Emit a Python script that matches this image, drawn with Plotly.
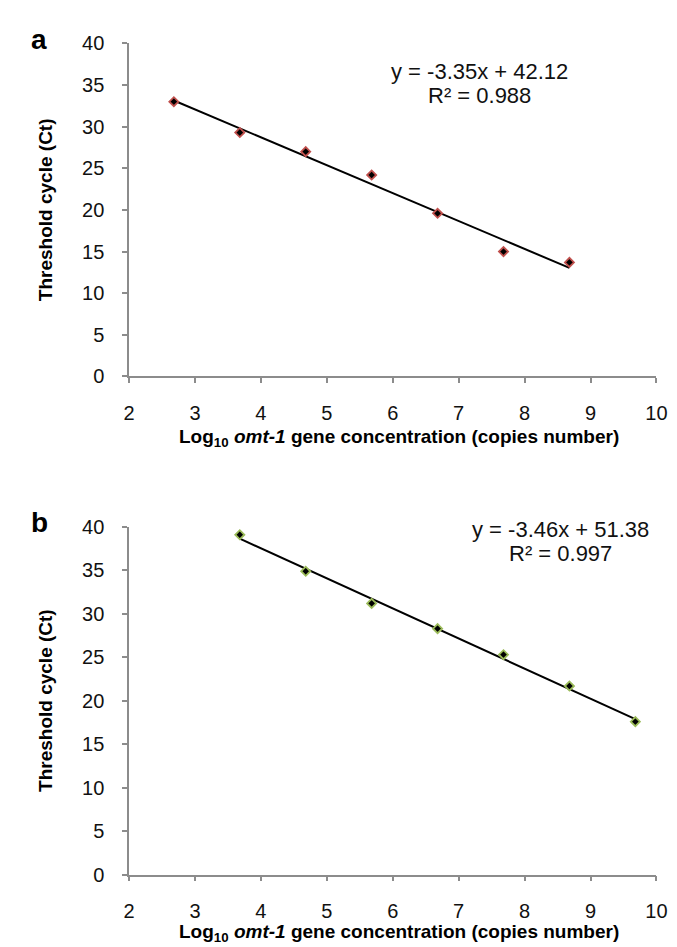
import plotly.graph_objects as go

# Panel a data
xa = [2.68, 3.68, 4.68, 5.68, 6.68, 7.68, 8.68]
ya = [33.0, 29.3, 27.0, 24.2, 19.6, 15.0, 13.7]
slope_a, intercept_a, r2_a = -3.35, 42.12, 0.988

# Panel b data
xb = [3.68, 4.68, 5.68, 6.68, 7.68, 8.68, 9.68]
yb = [39.1, 34.9, 31.2, 28.3, 25.3, 21.7, 17.6]
slope_b, intercept_b, r2_b = -3.46, 51.38, 0.997

x_ticks = [2, 3, 4, 5, 6, 7, 8, 9, 10]
y_ticks = [0, 5, 10, 15, 20, 25, 30, 35, 40]

W, H = 677, 947
FONT = "Liberation Sans, Arial, sans-serif"
AXIS_COL = "#8c8c8c"

def fx(px):
    return px / W

def fy(py):
    return 1 - py / H

fig = go.Figure()

# pixel geometry
x0, x1 = 118, 659
a_top, a_bot = 25, 366
b_top, b_bot = 520, 876

def add_panel(xs, ys, slope, intercept, col, xaxis, yaxis):
    tx = [min(xs), max(xs)]
    ty = [slope * v + intercept for v in tx]
    fig.add_trace(go.Scatter(x=tx, y=ty, mode="lines", line=dict(color="black", width=2),
                             xaxis=xaxis, yaxis=yaxis, showlegend=False, hoverinfo="skip"))
    fig.add_trace(go.Scatter(x=xs, y=ys, mode="markers",
                             marker=dict(symbol="diamond", size=7, color="black",
                                         line=dict(color=col, width=1.8)),
                             xaxis=xaxis, yaxis=yaxis, showlegend=False))

add_panel(xa, ya, slope_a, intercept_a, "#c0504d", "x", "y")
add_panel(xb, yb, slope_b, intercept_b, "#9bbb59", "x2", "y2")

xtitle = "<b>Log<sub>10</sub> <i>omt-1</i> gene concentration (copies number)</b>"
ytitle = "<b>Threshold cycle (Ct)</b>"
title_font = dict(family=FONT, size=19, color="black")

axis_common = dict(showline=True, linecolor=AXIS_COL, linewidth=1.5, ticks="outside",
                   tickcolor=AXIS_COL, ticklen=5, tickwidth=1.5, showgrid=False, zeroline=False,
                   tickfont=dict(family=FONT, size=20, color="#111111"))

fig.update_layout(
    width=W, height=H, margin=dict(l=0, r=0, t=0, b=0),
    plot_bgcolor="white", paper_bgcolor="white",
    xaxis=dict(domain=[fx(x0), fx(x1)], range=[2, 10], tickvals=x_ticks, anchor="y",
               ticklabelstandoff=13, **axis_common),
    yaxis=dict(domain=[fy(a_bot), fy(a_top)], range=[0, 40], tickvals=y_ticks, anchor="x",
               ticklabelstandoff=14, **axis_common),
    xaxis2=dict(domain=[fx(x0), fx(x1)], range=[2, 10], tickvals=x_ticks, anchor="y2",
                ticklabelstandoff=13, **axis_common),
    yaxis2=dict(domain=[fy(b_bot), fy(b_top)], range=[0, 40], tickvals=y_ticks, anchor="x2",
                ticklabelstandoff=14, **axis_common),
)

def ann(x, y, text, font, angle=0):
    fig.add_annotation(x=fx(x), y=fy(y), xref="paper", yref="paper", showarrow=False,
                       xanchor="center", yanchor="middle",
                       text=text, font=font, textangle=angle, align="center")

# axis titles
ann(395, 429, xtitle, title_font)
ann(395, 936, xtitle, title_font)
ann(33, (a_top + a_bot) / 2, ytitle, title_font, -90)
ann(33, (b_top + b_bot) / 2, ytitle, title_font, -90)

# trendline equations
eq_font = dict(family=FONT, size=22, color="#111111")
ann(477, 54, f"y = {slope_a:.2f}x + {intercept_a:.2f}", eq_font)
ann(477, 78, f"R² = {r2_a:.3f}", eq_font)
ann(561, 523, f"y = {slope_b:.2f}x + {intercept_b:.2f}", eq_font)
ann(561, 547, f"R² = {r2_b:.3f}", eq_font)

# panel letters
panel_font = dict(family=FONT, size=28, color="black")
ann(26, 21, "<b>a</b>", panel_font)
ann(26, 515, "<b>b</b>", panel_font)

fig.write_html("out.html")
